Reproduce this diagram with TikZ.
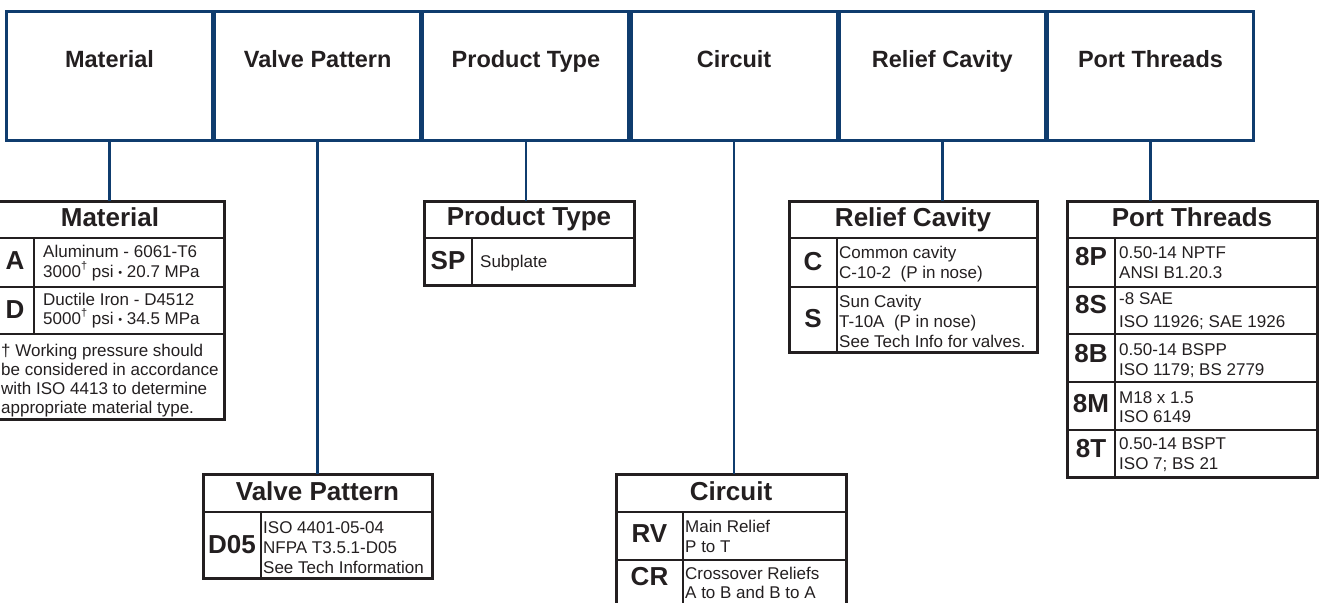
\documentclass[tikz,border=0pt]{standalone}
\usepackage{fontspec}
\setmainfont{Liberation Sans}
\definecolor{navy}{HTML}{0F3C6E}
\definecolor{ink}{HTML}{231F20}
\newcommand\mybul{{\fontsize{11}{11}\selectfont\raisebox{1pt}{•}}}
\newcommand\mydag{\raisebox{8pt}{\fontsize{11}{11}\selectfont †}}
\begin{document}
\begin{tikzpicture}[x=1pt,y=-1pt,
  hdr/.style={draw=navy,line width=3pt,minimum width=206pt,minimum height=128.6pt,inner sep=0pt,text height=17pt,text depth=34.4pt,text=ink,font=\bfseries\fontsize{23.5}{28}\selectfont},
  conn/.style={draw=navy,line width=2.5pt},
  frame/.style={draw=ink,line width=3pt,inner sep=0pt,outer sep=0pt,anchor=north west},
  rule/.style={draw=ink,line width=2pt},
  ttl/.style={anchor=base,inner sep=0pt,text=ink,font=\bfseries\fontsize{26}{30}\selectfont},
  code/.style={anchor=base,inner sep=0pt,text=ink,font=\bfseries\fontsize{26}{30}\selectfont},
  desc/.style={anchor=base west,inner sep=0pt,text=ink,font=\fontsize{17}{20}\selectfont}]
\useasboundingbox (0,0) rectangle (1319,602);
\clip (0,0) rectangle (1319,602);

% header boxes
\node[hdr] (h1) at (109.5,75.7) {Material};
\node[hdr] (h2) at (317.7,75.7) {Valve Pattern};
\node[hdr] (h3) at (525.9,75.7) {Product Type};
\node[hdr] (h4) at (734.1,75.7) {Circuit};
\node[hdr] (h5) at (942.3,75.7) {Relief Cavity};
\node[hdr] (h6) at (1150.5,75.7) {Port Threads};

% detail frames
\node[frame,minimum width=228pt,minimum height=218pt] (mat) at (-4,201) {};
\node[frame,minimum width=210pt,minimum height=84pt] (pt) at (424,201) {};
\node[frame,minimum width=248pt,minimum height=151pt] (rc) at (789,201) {};
\node[frame,minimum width=250pt,minimum height=276pt] (pth) at (1067,201) {};
\node[frame,minimum width=229pt,minimum height=104pt] (vp) at (203,474) {};
\node[frame,minimum width=230pt,minimum height=146pt] (ci) at (616,474) {};

% connectors
\draw[conn] (h1.south) -- (h1.south |- mat.north);
\draw[conn] (h2.south) -- (h2.south |- vp.north);
\draw[conn] (h3.south) -- (h3.south |- pt.north);
\draw[conn] (h4.south) -- (h4.south |- ci.north);
\draw[conn] (h5.south) -- (h5.south |- rc.north);
\draw[conn] (h6.south) -- (h6.south |- pth.north);

% ---- Material
\draw[rule] (-4,238) -- (224,238);
\draw[rule] (-4,287) -- (224,287);
\draw[rule] (-4,334) -- (224,334);
\draw[rule] (34,238) -- (34,334);
\node[ttl] (matt) at (110,226) {Material};
\node[code] (matA) at (15,269) {A};
\node[code] (matD) at (15,318) {D};
\node[desc] (ma1) at (43,257) {Aluminum - 6061-T6};
\node[desc] (ma2) at (43,277) {3000\mydag{} psi \mybul{} 20.7 MPa};
\node[desc] (md1) at (43,305) {Ductile Iron - D4512};
\node[desc] (md2) at (43,324) {5000\mydag{} psi \mybul{} 34.5 MPa};
\node[desc] (mf1) at (1,356) {† Working pressure should};
\node[desc] (mf2) at (1,375) {be considered in accordance};
\node[desc] (mf3) at (1,394) {with ISO 4413 to determine};
\node[desc] (mf4) at (1,413) {appropriate material type.};

% ---- Product Type
\draw[rule] (424,238) -- (634,238);
\draw[rule] (472,238) -- (472,285);
\node[ttl] (ptt) at (529,225) {Product Type};
\node[code] (ptSP) at (448,269) {SP};
\node[desc] (pt1) at (480,267) {Subplate};

% ---- Relief Cavity
\draw[rule] (789,238) -- (1037,238);
\draw[rule] (789,287) -- (1037,287);
\draw[rule] (837,238) -- (837,352);
\node[ttl] (rct) at (913,226) {Relief Cavity};
\node[code] (rcC) at (813,270) {C};
\node[code] (rcS) at (813,327) {S};
\node[desc] (rc1) at (839,258) {Common cavity};
\node[desc] (rc2) at (839,278) {C-10-2\ \ (P in nose)};
\node[desc] (rc3) at (839,307) {Sun Cavity};
\node[desc] (rc4) at (839,327) {T-10A\ \ (P in nose)};
\node[desc] (rc5) at (839,347) {See Tech Info for valves.};

% ---- Port Threads
\draw[rule] (1067,238) -- (1317,238);
\draw[rule] (1067,287) -- (1317,287);
\draw[rule] (1067,334) -- (1317,334);
\draw[rule] (1067,382) -- (1317,382);
\draw[rule] (1067,430) -- (1317,430);
\draw[rule] (1115,238) -- (1115,477);
\node[ttl] (ptht) at (1192,226) {Port Threads};
\node[code] (p8P) at (1091,265) {8P};
\node[code] (p8S) at (1091,313) {8S};
\node[code] (p8B) at (1091,362) {8B};
\node[code] (p8M) at (1091,412) {8M};
\node[code] (p8T) at (1091,457) {8T};
\node[desc] (pd1) at (1119,258) {0.50-14 NPTF};
\node[desc] (pd2) at (1119,278) {ANSI B1.20.3};
\node[desc] (pd3) at (1119,304) {-8 SAE};
\node[desc] (pd4) at (1119,327) {ISO 11926; SAE 1926};
\node[desc] (pd5) at (1119,355) {0.50-14 BSPP};
\node[desc] (pd6) at (1119,375) {ISO 1179; BS 2779};
\node[desc] (pd7) at (1119,403) {M18 x 1.5};
\node[desc] (pd8) at (1119,422) {ISO 6149};
\node[desc] (pd9) at (1119,449) {0.50-14 BSPT};
\node[desc] (pd10) at (1119,469) {ISO 7; BS 21};

% ---- Valve Pattern
\draw[rule] (203,512) -- (432,512);
\draw[rule] (261,512) -- (261,578);
\node[ttl] (vpt) at (317.5,500) {Valve Pattern};
\node[code] (vpD) at (232,553) {D05};
\node[desc] (vp1) at (263,533) {ISO 4401-05-04};
\node[desc] (vp2) at (263,553) {NFPA T3.5.1-D05};
\node[desc] (vp3) at (263,573) {See Tech Information};

% ---- Circuit
\draw[rule] (616,512) -- (846,512);
\draw[rule] (616,560) -- (846,560);
\draw[rule] (683,512) -- (683,620);
\node[ttl] (cit) at (731,500) {Circuit};
\node[code] (ciRV) at (649.5,542) {RV};
\node[code] (ciCR) at (649.5,585) {CR};
\node[desc] (ci1) at (685,532) {Main Relief};
\node[desc] (ci2) at (685,552) {P to T};
\node[desc] (ci3) at (685,579) {Crossover Reliefs};
\node[desc] (ci4) at (685,598) {A to B and B to A};
\end{tikzpicture}
\end{document}
